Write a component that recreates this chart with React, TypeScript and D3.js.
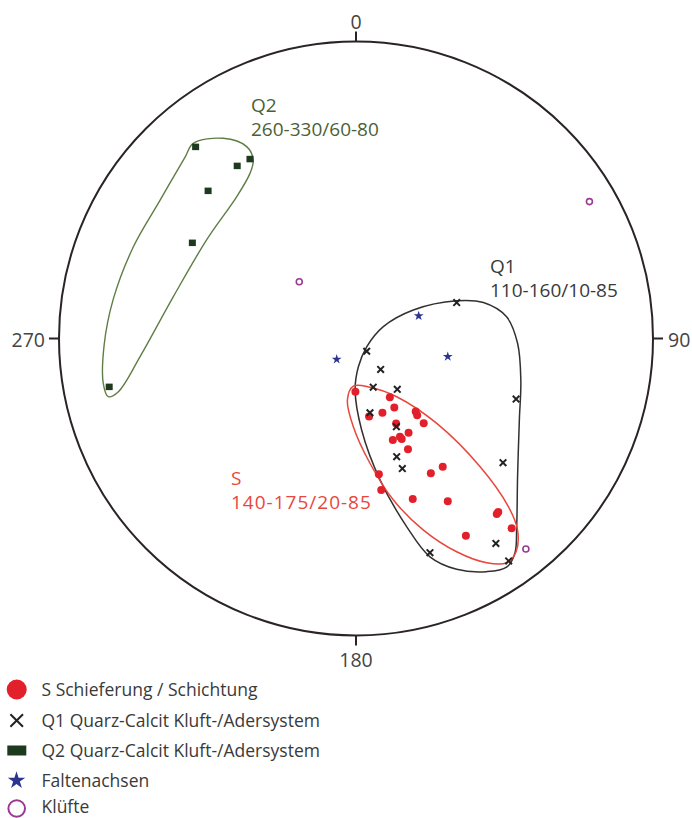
import React, { useEffect, useRef } from "react";
import * as d3 from "d3";

// Projection-plane coordinates: [east, north] in percent of the net radius.
const sPoles: [number, number][] = [
  [-0.2, -17.9], [11.4, -19.8], [12.9, -23.2], [8.9, -25.0], [4.4, -26.3],
  [20.1, -24.6], [20.6, -25.8], [22.8, -28.5], [13.5, -28.6], [17.7, -31.7],
  [14.8, -33.1], [15.4, -33.8], [12.4, -34.2], [17.5, -37.3], [29.2, -43.2],
  [25.2, -45.4], [7.7, -45.7], [8.5, -51.0], [19.1, -54.0], [30.9, -54.8],
  [47.4, -59.1], [47.9, -58.4], [52.4, -63.9], [37.0, -66.4],
];

const q1Poles: [number, number][] = [
  [33.9, 12.1], [3.6, -4.3], [8.3, -10.4], [5.8, -16.4], [13.9, -17.1],
  [53.9, -20.4], [4.7, -25.0], [13.6, -29.7], [13.7, -39.8], [15.6, -43.8],
  [49.5, -41.8], [47.1, -69.0], [24.9, -72.1], [51.4, -74.9],
];

const q2Poles: [number, number][] = [
  [-54.0, 64.6], [-35.7, 60.5], [-40.0, 58.2], [-49.8, 49.8], [-55.1, 32.3],
  [-83.1, -16.2],
];

const foldAxes: [number, number][] = [
  [21.1, 7.6], [-6.5, -7.0], [30.9, -6.1],
];

const joints: [number, number][] = [
  [78.6, 46.1], [-19.1, 19.1], [57.2, -70.9],
];

// Envelope outlines around each group
const q2Hull: [number, number][] = [
  [-54.8, 65.7], [-44.7, 67.4], [-36.8, 64.6], [-34.6, 60.1], [-35.7, 55.6],
  [-40.2, 47.7], [-50.3, 33.2], [-61.5, 14.1], [-72.7, -6.1], [-80.0, -17.9],
  [-83.4, -19.6], [-85.1, -15.1], [-84.8, -2.2], [-81.8, 13.0], [-75.0, 30.8],
  [-66.0, 46.5], [-57.6, 61.0],
];

const q1Hull: [number, number][] = [
  [-0.3, -17.3], [0.8, -9.5], [3.6, -2.8], [9.2, 4.0], [19.3, 9.6],
  [33.9, 12.7], [42.9, 12.1], [50.7, 7.3], [54.4, -1.6], [55.5, -14.0],
  [55.0, -27.4], [54.4, -46.5], [54.1, -63.4], [53.5, -72.3], [50.7, -77.0],
  [44.0, -78.5], [33.9, -77.7], [24.9, -73.5], [17.1, -63.4], [8.1, -47.6],
  [1.9, -30.8],
];

const sHull: [number, number][] = [
  [-0.9, -16.0], [4.7, -16.4], [13.7, -19.6], [27.2, -28.6], [41.8, -43.2],
  [51.3, -56.6], [54.4, -64.5], [53.9, -71.8], [50.7, -75.5], [44.0, -75.5],
  [33.9, -71.8], [22.7, -64.5], [12.6, -54.4], [4.7, -42.0], [-0.9, -29.7],
  [-2.9, -20.7],
];

const azimuthLabels = ["0", "90", "180", "270"];
const azimuthAngles = [0, 90, 180, 270];

const groupLabels = [
  { title: "Q2", range: "260-330/60-80", color: "#4d5f35", spacing: 0 },
  { title: "Q1", range: "110-160/10-85", color: "#3a3a3a", spacing: 0 },
  { title: "S", range: "140-175/20-85", color: "#e8473c", spacing: 1 },
];

const legendLabels = [
  "S Schieferung / Schichtung",
  "Q1 Quarz-Calcit Kluft-/Adersystem",
  "Q2 Quarz-Calcit Kluft-/Adersystem",
  "Faltenachsen",
  "Klüfte",
];

const W = 692;
const H = 818;
const CX = 356;
const CY = 338.5;
const R = 297;
const FONT = "'Open Sans', 'DejaVu Sans', sans-serif";

const RED = "#e2202b";
const DARK = "#2a2424";
const GREEN = "#1d3a1f";
const BLUE = "#2b3590";
const PURPLE = "#9a3a92";

export default function App() {
  const ref = useRef<SVGSVGElement | null>(null);

  useEffect(() => {
    const svg = d3.select(ref.current);
    svg.selectAll("*").remove();

    const x = d3.scaleLinear().domain([-100, 100]).range([CX - R, CX + R]);
    const y = d3.scaleLinear().domain([-100, 100]).range([CY + R, CY - R]);

    const g = svg.append("g");

    // Primitive circle
    g.append("circle")
      .attr("cx", CX)
      .attr("cy", CY)
      .attr("r", R)
      .attr("fill", "none")
      .attr("stroke", DARK)
      .attr("stroke-width", 2);

    // Azimuth ticks and labels
    azimuthAngles.forEach((a, i) => {
      const rad = (a * Math.PI) / 180;
      const sx = Math.sin(rad);
      const sy = -Math.cos(rad);
      g.append("line")
        .attr("x1", CX + sx * R)
        .attr("y1", CY + sy * R)
        .attr("x2", CX + sx * (R + 10))
        .attr("y2", CY + sy * (R + 10))
        .attr("stroke", DARK)
        .attr("stroke-width", 2);
      const t = g
        .append("text")
        .text(azimuthLabels[i])
        .attr("font-family", FONT)
        .attr("font-size", 19.5)
        .attr("fill", "#444");
      if (a === 0) t.attr("x", CX).attr("y", CY - R - 13).attr("text-anchor", "middle");
      if (a === 180) t.attr("x", CX).attr("y", CY + R + 31).attr("text-anchor", "middle");
      if (a === 90) t.attr("x", CX + R + 15).attr("y", CY + 8);
      if (a === 270) t.attr("x", CX - R - 14).attr("y", CY + 8).attr("text-anchor", "end");
    });

    const hull = d3
      .line<[number, number]>()
      .x((d) => x(d[0]))
      .y((d) => y(d[1]))
      .curve(d3.curveCatmullRomClosed.alpha(0.5));

    g.append("path").attr("d", hull(q2Hull)).attr("fill", "none").attr("stroke", "#5f7d45").attr("stroke-width", 1.4);
    g.append("path").attr("d", hull(q1Hull)).attr("fill", "none").attr("stroke", "#353030").attr("stroke-width", 1.5);
    g.append("path").attr("d", hull(sHull)).attr("fill", "none").attr("stroke", "#e8473c").attr("stroke-width", 1.5);

    // Q2 poles: squares
    g.selectAll("rect.q2")
      .data(q2Poles)
      .join("rect")
      .attr("class", "q2")
      .attr("x", (d) => x(d[0]) - 3.5)
      .attr("y", (d) => y(d[1]) - 3)
      .attr("width", 7)
      .attr("height", 6.5)
      .attr("fill", GREEN);

    // S poles: filled dots
    g.selectAll("circle.s")
      .data(sPoles)
      .join("circle")
      .attr("class", "s")
      .attr("cx", (d) => x(d[0]))
      .attr("cy", (d) => y(d[1]))
      .attr("r", 4)
      .attr("fill", RED);

    // Q1 poles: crosses
    const cross = (s: number) => `M${-s},${-s}L${s},${s}M${-s},${s}L${s},${-s}`;
    g.selectAll("path.q1")
      .data(q1Poles)
      .join("path")
      .attr("class", "q1")
      .attr("transform", (d) => `translate(${x(d[0])},${y(d[1])})`)
      .attr("d", cross(3.3))
      .attr("stroke", "#222")
      .attr("stroke-width", 2)
      .attr("fill", "none");

    // Fold axes: stars
    const star = d3.symbol().type(d3.symbolStar).size(30);
    g.selectAll("path.fa")
      .data(foldAxes)
      .join("path")
      .attr("class", "fa")
      .attr("transform", (d) => `translate(${x(d[0])},${y(d[1])})`)
      .attr("d", star())
      .attr("fill", BLUE);

    // Joints: open circles
    g.selectAll("circle.j")
      .data(joints)
      .join("circle")
      .attr("class", "j")
      .attr("cx", (d) => x(d[0]))
      .attr("cy", (d) => y(d[1]))
      .attr("r", 3)
      .attr("fill", "none")
      .attr("stroke", PURPLE)
      .attr("stroke-width", 1.6);

    // Group annotations
    const labelPos = [
      [251, 111.5],
      [490, 273],
      [231, 485],
    ];
    groupLabels.forEach((lab, i) => {
      const [lx, ly] = labelPos[i];
      const t = g
        .append("text")
        .attr("font-family", FONT)
        .attr("font-size", 19)
        .attr("letter-spacing", lab.spacing)
        .attr("fill", lab.color);
      t.append("tspan").attr("x", lx).attr("y", ly).text(lab.title);
      t.append("tspan").attr("x", lx).attr("y", ly + 24).text(lab.range);
    });

    // Legend
    const lg = svg.append("g");
    const rowY = [689.5, 720.5, 750.5, 780.5, 808.5];
    lg.append("circle").attr("cx", 16.7).attr("cy", rowY[0]).attr("r", 10).attr("fill", RED);
    lg.append("path")
      .attr("transform", `translate(16.7,${rowY[1]})`)
      .attr("d", cross(6.3))
      .attr("stroke", "#222")
      .attr("stroke-width", 2)
      .attr("fill", "none");
    lg.append("rect").attr("x", 7.3).attr("y", rowY[2] - 5).attr("width", 19).attr("height", 10).attr("fill", GREEN);
    lg.append("path")
      .attr("transform", `translate(16.5,${rowY[3]})`)
      .attr("d", d3.symbol().type(d3.symbolStar).size(95)())
      .attr("fill", BLUE);
    lg.append("circle")
      .attr("cx", 16.7)
      .attr("cy", rowY[4])
      .attr("r", 8.3)
      .attr("fill", "none")
      .attr("stroke", PURPLE)
      .attr("stroke-width", 2);

    legendLabels.forEach((txt, i) => {
      lg.append("text")
        .attr("x", 41.5)
        .attr("y", rowY[i] + (i === 4 ? 4.5 : 6))
        .attr("font-family", FONT)
        .attr("font-size", 17.5)
        .attr("fill", "#3a3a3a")
        .text(txt);
    });
  }, []);

  return (
    <svg
      ref={ref}
      width={W}
      height={H}
      style={{ position: "absolute", left: 0, top: 0, background: "#fff" }}
    />
  );
}
